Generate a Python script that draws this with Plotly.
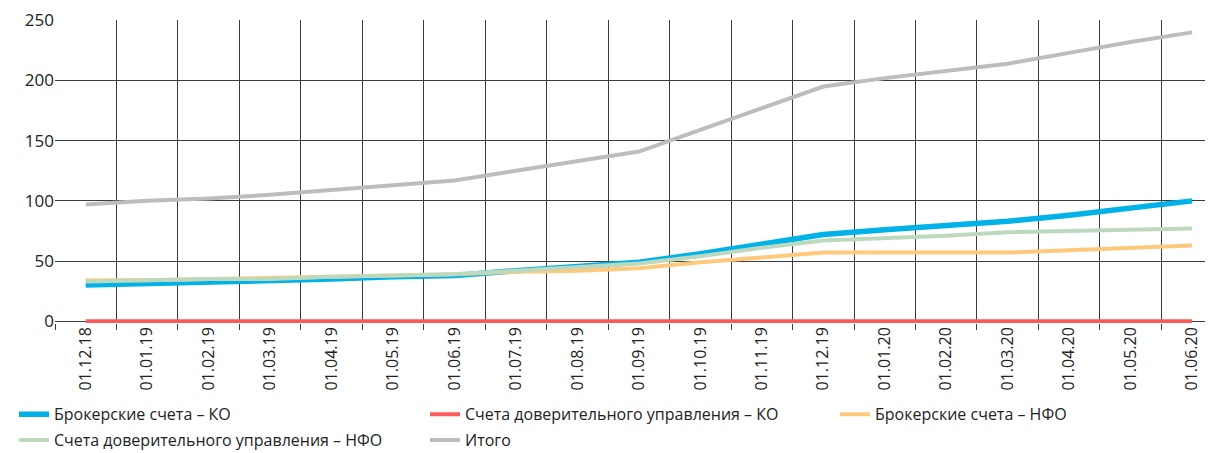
import plotly.graph_objects as go

dates = [
    "01.12.18", "01.01.19", "01.02.19", "01.03.19", "01.04.19", "01.05.19",
    "01.06.19", "01.07.19", "01.08.19", "01.09.19", "01.10.19", "01.11.19",
    "01.12.19", "01.01.20", "01.02.20", "01.03.20", "01.04.20", "01.05.20",
    "01.06.20",
]

broker_ko = [30, 31, 32, 34, 35, 37, 38, 42, 45, 49, 56, 64, 72, 76, 79, 83, 88, 94, 100]
trust_ko = [0, 0, 0, 0, 0, 0, 0, 0, 0, 0, 0, 0, 0, 0, 0, 0, 0, 0, 0]
broker_nfo = [34, 34, 35, 36, 37, 38, 39, 41, 42, 44, 49, 53, 57, 57, 57, 57, 59, 61, 63]
trust_nfo = [33, 34, 35, 35, 37, 38, 39, 42, 45, 48, 54, 61, 67, 69, 71, 74, 75, 76, 77]
total = [97, 100, 102, 105, 109, 113, 117, 125, 133, 141, 159, 177, 195, 202, 208, 214, 223, 232, 240]

# name, values, colour, width, legend column
series = [
    ("Брокерские счета – КО", broker_ko, "#00B2E8", 5.5, "legend"),
    ("Счета доверительного управления – КО", trust_ko, "#FF5A5A", 4, "legend2"),
    ("Брокерские счета – НФО", broker_nfo, "#FFC97C", 4, "legend3"),
    ("Счета доверительного управления – НФО", trust_nfo, "#BCD9BE", 4, "legend"),
    ("Итого", total, "#BDBDBD", 4, "legend2"),
]

FONT = "Open Sans"
GRID = "#3c3c3c"

fig = go.Figure()
for name, vals, color, width, leg in series:
    fig.add_trace(go.Scatter(
        x=dates, y=vals, name=name, mode="lines",
        line=dict(color=color, width=width),
        legend=leg, legendgroup=name,
    ))

legend_style = dict(
    orientation="v", xanchor="left", y=-0.245, yanchor="top",
    font=dict(size=16, color="#222222"),
    traceorder="grouped", tracegroupgap=2, bgcolor="rgba(0,0,0,0)",
)

# page body adds an 8px margin, so the figure is 8px smaller than the window
fig.update_layout(
    width=1205, height=445,
    margin=dict(l=47, r=0, t=12, b=130, autoexpand=False),
    plot_bgcolor="white", paper_bgcolor="white",
    font=dict(family=FONT, size=16, color="#222222"),
    showlegend=True,
    legend=dict(x=-0.0354, **legend_style),
    legend2=dict(x=0.3195, **legend_style),
    legend3=dict(x=0.6736, **legend_style),
)
fig.update_xaxes(
    type="category", range=[-0.5, 18.34],
    tickson="boundaries", ticks="outside", ticklen=6, tickcolor=GRID,
    showgrid=True, gridcolor=GRID, gridwidth=1,
    tickangle=-90, tickfont=dict(size=16), showline=False,
    automargin=False,
)
fig.update_yaxes(
    range=[-1.5, 250.3], tickvals=[0, 50, 100, 150, 200, 250],
    showgrid=True, gridcolor=GRID, gridwidth=1,
    zeroline=False, tickfont=dict(size=17), ticks="",
    automargin=False,
)

fig.write_html("out.html")
